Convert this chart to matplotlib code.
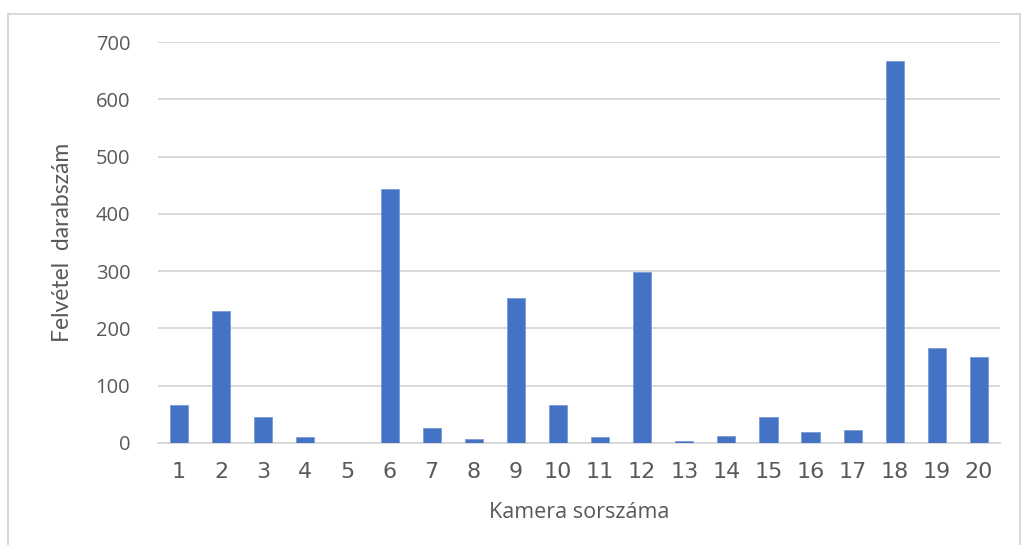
import numpy as np
import matplotlib.pyplot as plt
from matplotlib.patches import Rectangle

# camera numbers and recording counts
cameras = list(range(1, 21))
counts = [66, 230, 46, 10, 0, 443, 26, 7, 253, 66, 10, 298, 3, 13, 46, 20, 23, 666, 166, 150]
yticks = [0, 100, 200, 300, 400, 500, 600, 700]

fig = plt.figure(figsize=(10.23, 5.45), dpi=100)
ax = fig.add_axes([0.1545, 0.1872, 0.823, 0.7357])

ax.bar(cameras, counts, width=0.43, color='#4472C4', edgecolor='#7b9bd6', linewidth=0.6, zorder=3)

ax.set_xlim(0.5, 20.5)
ax.set_ylim(0, 700)
ax.set_yticks(yticks)
ax.set_xticks(cameras)
ax.grid(axis='y', color='#d9d9d9', linewidth=1.4, zorder=0)
for s in ['top', 'right', 'left']:
    ax.spines[s].set_visible(False)
ax.spines['bottom'].set_color('#d9d9d9')
ax.spines['bottom'].set_linewidth(1.4)
ax.tick_params(axis='both', length=0, colors='#595959')
ax.tick_params(axis='y', pad=20)
ax.tick_params(axis='x', pad=14)
for lab in ax.get_yticklabels():
    lab.set_fontfamily('Open Sans')
    lab.set_fontsize(14.5)
for lab in ax.get_xticklabels():
    lab.set_fontfamily('Liberation Sans Narrow')
    lab.set_fontsize(16)

ax.set_xlabel('Kamera sorszáma', fontfamily='Open Sans', fontsize=15.5, color='#595959', labelpad=14)
ax.set_ylabel('Felvétel  darabszám', fontfamily='Lato', fontsize=16.5, color='#595959', labelpad=16)

# outer chart border
fig.patches.append(Rectangle((8 / 1023, -0.1), 1012 / 1023, 1 - 14 / 545 + 0.1, transform=fig.transFigure,
                             fill=False, edgecolor='#d9d9d9', linewidth=1.5))

fig.savefig('out.png', dpi=100)
